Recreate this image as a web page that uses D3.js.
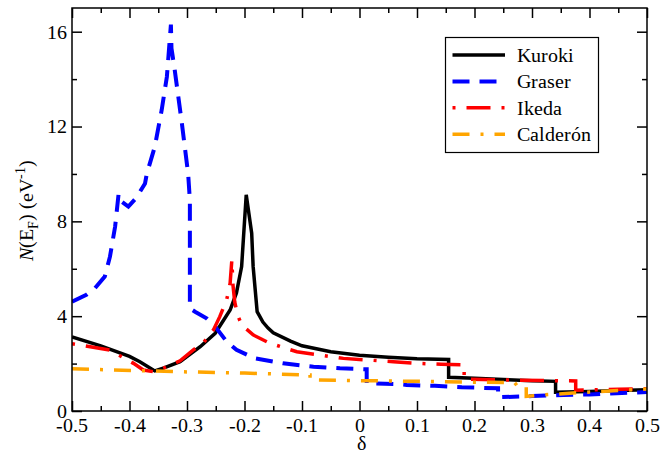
<!DOCTYPE html>
<html>
<head>
<meta charset="utf-8">
<script src="https://cdn.jsdelivr.net/npm/d3@7"></script>
<style>
  @font-face {
    font-family: "DosSerif";
    src: local("Liberation Serif"), local("LiberationSerif"), local("LiberationSerif-Regular"), local("Times New Roman");
    font-style: normal;
  }
  @font-face {
    font-family: "DosSerif";
    src: local("Liberation Serif Italic"), local("LiberationSerif-Italic");
    font-style: italic;
  }
  #dos text { font-family: "DosSerif", "Liberation Serif", serif !important; }
</style>
</head>
<body style="margin:0">
<svg id="dos" width="662" height="453"></svg>
<script>
// Density of states at the Fermi level versus doping δ for four models.
const kurokiDelta = [-0.5, -0.45, -0.4, -0.382, -0.356, -0.34, -0.312, -0.277, -0.251, -0.225, -0.214, -0.205, -0.197, -0.1875, -0.185, -0.178, -0.168, -0.159, -0.15, -0.12, -0.1, -0.05, 0, 0.05, 0.1, 0.155, 0.155, 0.2, 0.25, 0.3, 0.341, 0.341, 0.4, 0.45, 0.5];
const kurokiN     = [3.12, 2.75, 2.3, 2.08, 1.69, 1.82, 2.08, 2.71, 3.28, 4.26, 4.98, 6.09, 9.12, 7.5, 6.1, 4.19, 3.75, 3.5, 3.3, 2.95, 2.75, 2.5, 2.35, 2.27, 2.2, 2.17, 1.42, 1.38, 1.33, 1.28, 1.25, 0.79, 0.82, 0.86, 0.9];

const graserDelta = [-0.5, -0.475, -0.46, -0.443, -0.434, -0.425, -0.419, -0.415, -0.402, -0.388, -0.373, -0.37, -0.356, -0.344, -0.335, -0.328, -0.327, -0.322, -0.309, -0.298, -0.295, -0.295, -0.286, -0.266, -0.251, -0.231, -0.214, -0.182, -0.133, -0.08, -0.034, 0.0125, 0.0125, 0.065, 0.082, 0.131, 0.178, 0.241, 0.241, 0.3, 0.355, 0.4, 0.447, 0.5];
const graserN     = [4.61, 4.9, 5.18, 5.67, 6.51, 7.78, 9.15, 8.85, 8.62, 9.0, 9.6, 10.0, 11.15, 12.7, 14.1, 16.3, 15.3, 14.5, 12.15, 10.0, 8.9, 4.33, 4.19, 3.91, 3.56, 2.93, 2.58, 2.22, 2.01, 1.87, 1.8, 1.76, 1.17, 1.14, 1.1, 1.06, 1.0, 0.96, 0.58, 0.63, 0.68, 0.7, 0.75, 0.8];

const ikedaDelta = [-0.5, -0.434, -0.393, -0.376, -0.359, -0.34, -0.312, -0.289, -0.272, -0.254, -0.243, -0.231, -0.225, -0.222, -0.22, -0.217, -0.212, -0.205, -0.185, -0.156, -0.109, -0.028, 0.059, 0.1, 0.142, 0.182, 0.182, 0.25, 0.335, 0.376, 0.376, 0.45, 0.5];
const ikedaN     = [2.84, 2.57, 2.01, 1.73, 1.66, 1.82, 2.12, 2.58, 2.86, 3.42, 3.98, 4.69, 5.39, 6.37, 5.3, 4.6, 4.05, 3.63, 3.21, 2.86, 2.5, 2.22, 2.08, 2.01, 1.97, 1.95, 1.34, 1.31, 1.28, 1.27, 0.88, 0.92, 0.94];

const calderonDelta = [-0.5, -0.3, -0.2, -0.086, -0.086, 0, 0.14, 0.27, 0.275, 0.29, 0.29, 0.32, 0.4, 0.45, 0.5];
const calderonN     = [1.78, 1.65, 1.6, 1.52, 1.31, 1.28, 1.24, 1.19, 1.03, 1.03, 0.62, 0.68, 0.8, 0.86, 0.93];

const seriesNames = ["Kuroki", "Graser", "Ikeda", "Calderón"];
const xTicks = [-0.5, -0.4, -0.3, -0.2, -0.1, 0, 0.1, 0.2, 0.3, 0.4, 0.5];
const yTicks = [0, 4, 8, 12, 16];

const series = [
  { name: seriesNames[0], delta: kurokiDelta,   n: kurokiN,   color: "#000000", width: 3.5, dash: null },
  { name: seriesNames[1], delta: graserDelta,   n: graserN,   color: "#0000ff", width: 4,   dash: "17,10" },
  { name: seriesNames[2], delta: ikedaDelta,    n: ikedaN,    color: "#ff0000", width: 3.5, dash: "3,11,24,11" },
  { name: seriesNames[3], delta: calderonDelta, n: calderonN, color: "#ffa500", width: 3.5, dash: "17,11,3,11" }
];

const SERIF = "DosSerif, 'Liberation Serif', serif";
const svg = d3.select("#dos");
const plotL = 72, plotR = 647, plotT = 8, plotB = 411;

const x = d3.scaleLinear().domain([-0.5, 0.5]).range([plotL, plotR]);
const y = d3.scaleLinear().domain([0, 17]).range([plotB, plotT]);

const minorX = d3.range(-0.45, 0.5, 0.1).map(v => +v.toFixed(2));
const minorY = d3.range(2, 17, 4);

// Serif text helper
function label(px, py, str, opts = {}) {
  const t = svg.append("text")
    .attr("x", px).attr("y", py)
    .attr("font-size", opts.size || 20)
    .attr("text-anchor", opts.anchor || "start")
    .attr("fill", "#000")
    .attr("font-family", SERIF);
  if (opts.dy) t.attr("dy", opts.dy);
  t.text(str);
  return t;
}

// Clip for the curves
svg.append("defs").append("clipPath").attr("id", "plotClip")
  .append("rect").attr("x", plotL).attr("y", plotT)
  .attr("width", plotR - plotL).attr("height", plotB - plotT);

// Tick marks from d3 axes (labels drawn separately), all pointing inward
function ticksOnly(g) {
  g.select(".domain").remove();
  g.selectAll(".tick text").remove();
  g.selectAll(".tick line").attr("stroke", "#000").attr("stroke-width", 1.5);
}
const axes = [
  [d3.axisBottom, x, xTicks, 10, `translate(0,${plotB})`],
  [d3.axisBottom, x, minorX, 5, `translate(0,${plotB})`],
  [d3.axisTop, x, xTicks, 10, `translate(0,${plotT})`],
  [d3.axisTop, x, minorX, 5, `translate(0,${plotT})`],
  [d3.axisLeft, y, yTicks, 10, `translate(${plotL},0)`],
  [d3.axisLeft, y, minorY, 5, `translate(${plotL},0)`],
  [d3.axisRight, y, yTicks, 10, `translate(${plotR},0)`],
  [d3.axisRight, y, minorY, 5, `translate(${plotR},0)`]
];
axes.forEach(([fn, sc, vals, len, tr]) => {
  svg.append("g").attr("transform", tr)
    .call(fn(sc).tickValues(vals).tickSizeInner(-len).tickSizeOuter(0))
    .call(ticksOnly);
});

// Tick labels
const fmtX = d => d === 0 ? "0" : d3.format(".1f")(d).replace("\u2212", "-");
xTicks.forEach(d => label(x(d), plotB + 21, fmtX(d), { anchor: "middle" }));
yTicks.forEach(d => label(plotL - 5, y(d), String(d), { anchor: "end", dy: "0.34em" }));

// Curves
const line = d3.line().x(d => x(d[0])).y(d => y(d[1]));
const curves = svg.append("g").attr("clip-path", "url(#plotClip)");
series.forEach(s => {
  const pts = s.delta.map((d, i) => [d, s.n[i]]);
  curves.append("path")
    .datum(pts)
    .attr("d", line)
    .attr("fill", "none")
    .attr("stroke", s.color)
    .attr("stroke-width", s.width)
    .attr("stroke-linejoin", "miter")
    .attr("stroke-dasharray", s.dash);
});

// Frame
svg.append("rect").attr("x", plotL).attr("y", plotT)
  .attr("width", plotR - plotL).attr("height", plotB - plotT)
  .attr("fill", "none").attr("stroke", "#000").attr("stroke-width", 1.5);

// Legend
svg.append("rect").attr("x", 445.5).attr("y", 37.5).attr("width", 153).attr("height", 115)
  .attr("fill", "#fff").attr("stroke", "#000").attr("stroke-width", 1.2);
series.forEach((s, i) => {
  const ly = 55 + i * 26.4;
  svg.append("line")
    .attr("x1", 452.5).attr("x2", 505).attr("y1", ly).attr("y2", ly)
    .attr("stroke", s.color).attr("stroke-width", s.width)
    .attr("stroke-dasharray", s.dash);
  label(517, ly, s.name, { dy: "0.35em" });
});

// Axis titles
label(x(0) + 2, 450, "δ", { anchor: "middle" });

const yTitle = svg.append("text")
  .attr("transform", "translate(33,210) rotate(-90)")
  .attr("text-anchor", "middle").attr("font-size", 20).attr("fill", "#000")
  .attr("font-family", SERIF);
yTitle.append("tspan").attr("font-style", "italic").text("N");
yTitle.append("tspan").text("(E");
yTitle.append("tspan").attr("font-size", 14).attr("dy", 5).text("F");
yTitle.append("tspan").attr("dy", -5).text(") (eV");
yTitle.append("tspan").attr("font-size", 14).attr("dy", -8).text("-1");
yTitle.append("tspan").attr("dy", 8).text(")");
</script>
</body>
</html>
